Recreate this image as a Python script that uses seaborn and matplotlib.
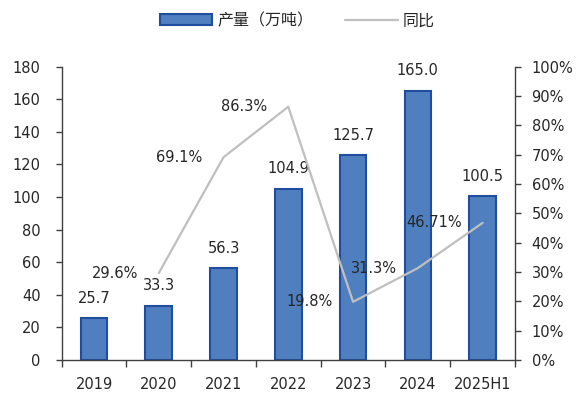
import matplotlib
matplotlib.use("Agg")
import matplotlib.pyplot as plt
import seaborn as sns
from matplotlib.patches import Patch
from matplotlib.lines import Line2D
from matplotlib.ticker import MultipleLocator, PercentFormatter

# data
years = ["2019", "2020", "2021", "2022", "2023", "2024", "2025H1"]
output = [25.7, 33.3, 56.3, 104.9, 125.7, 165.0, 100.5]

yoy_years = ["2020", "2021", "2022", "2023", "2024", "2025H1"]
yoy = [29.6, 69.1, 86.3, 19.8, 31.3, 46.71]
yoy_labels = ["29.6%", "69.1%", "86.3%", "19.8%", "31.3%", "46.71%"]

BAR = "#4F7FBE"
EDGE = "#1F4E9E"
LINE = "#BFBFBF"
TEXT = "#262626"
SPINE = "#404040"

sns.set_style("ticks")
plt.rcParams["font.family"] = ["DejaVu Sans", "Noto Sans CJK SC"]
plt.rcParams["text.color"] = TEXT
plt.rcParams["xtick.color"] = SPINE
plt.rcParams["ytick.color"] = SPINE
plt.rcParams["xtick.labelcolor"] = TEXT
plt.rcParams["ytick.labelcolor"] = TEXT

fig, ax = plt.subplots(figsize=(5.76, 3.96), dpi=100)
fig.subplots_adjust(left=0.107, right=0.894, top=0.832, bottom=0.091)

sns.barplot(
    x=years, y=output, ax=ax, color=BAR, edgecolor=EDGE,
    linewidth=1.5, width=0.41, saturation=1, errorbar=None, zorder=2,
)
ax.bar_label(ax.containers[0], labels=[f"{v:.1f}" for v in output],
             padding=9, fontsize=10.5, color=TEXT)

ax2 = ax.twinx()
positions = [years.index(y) for y in yoy_years]
sns.lineplot(x=positions, y=[v / 100 for v in yoy], ax=ax2,
             color=LINE, linewidth=1.6)
for pos, val, lab in zip(positions, yoy, yoy_labels):
    ax2.annotate(lab, (pos, val / 100), xytext=(-15, 0),
                 textcoords="offset points", ha="right", va="center",
                 fontsize=10.5, color=TEXT)

# axes, ticks
ax.set_xlim(-0.5, len(years) - 0.5)
ax.set_ylim(0, 180)
ax.yaxis.set_major_locator(MultipleLocator(20))
ax2.set_ylim(0, 1)
ax2.yaxis.set_major_locator(MultipleLocator(0.1))
ax2.yaxis.set_major_formatter(PercentFormatter(1, decimals=0))

ax.set_xticks(range(len(years)))
ax.set_xticklabels(years)
ax.set_xticks([i - 0.5 for i in range(len(years) + 1)], minor=True)
ax.tick_params(axis="x", which="major", length=0, pad=12, labelsize=10.5)
ax.tick_params(axis="x", which="minor", length=5, width=1, direction="out")
ax.tick_params(axis="y", length=4, width=1, pad=11, labelsize=10.5)
ax2.tick_params(axis="y", length=4, width=1, pad=8, labelsize=10.5)
ax.set_xlabel("")
ax.set_ylabel("")
ax2.set_xlabel("")
ax2.set_ylabel("")

for a in (ax, ax2):
    a.spines["top"].set_visible(False)
    for s in a.spines.values():
        s.set_color(SPINE)
        s.set_linewidth(1)
ax.spines["right"].set_visible(False)
ax2.spines["left"].set_visible(False)
ax2.spines["bottom"].set_visible(False)

handles = [
    Patch(facecolor=BAR, edgecolor=EDGE, linewidth=1.5, label="产量（万吨）"),
    Line2D([], [], color=LINE, linewidth=1.6, label="同比"),
]
fig.legend(handles=handles, loc="center", bbox_to_anchor=(0.516, 0.947),
           ncol=2, frameon=False, handlelength=3.3, handletextpad=0.3,
           columnspacing=2.0,
           prop={"family": ["Noto Sans CJK SC", "DejaVu Sans"], "size": 11.5})

fig.savefig("out.png", dpi=100)
